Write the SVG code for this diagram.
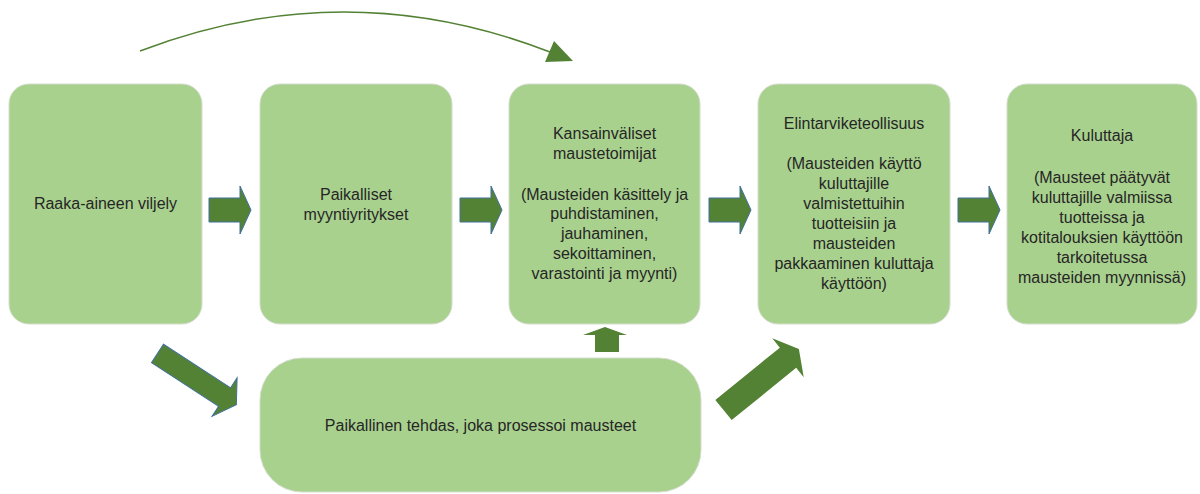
<svg xmlns="http://www.w3.org/2000/svg" width="1200" height="494" viewBox="0 0 1200 494">
<style>
.box{fill:#A9D18E;stroke:#d3dccd;stroke-width:1}
.t{font-family:"Liberation Sans",Arial,sans-serif;font-size:16px;fill:#262626;text-anchor:middle}
.arr{fill:#548235;stroke:#41719C;stroke-width:1}
.arr2{fill:#548235}
</style>
<defs>
<path id="harrow" d="M0,-12 H31 V-24 L42,0 L31,24 V12 H0 Z"/>
</defs>
<rect width="1200" height="494" fill="#ffffff"/>
<g id="connectors">
<path d="M140,51 Q345,-27.5 550,52" fill="none" stroke="#548235" stroke-width="1.5"/>
<polygon points="554,41 573,61 545,62" fill="#548235"/>
<use href="#harrow" class="arr" transform="translate(209,210)"/>
<use href="#harrow" class="arr" transform="translate(460,210)"/>
<use href="#harrow" class="arr" transform="translate(709,210)"/>
<use href="#harrow" class="arr" transform="translate(958,210)"/>
<path class="arr" d="M0,-11 H80 V-23 L94,0 L80,23 V11 H0 Z" transform="translate(157.5,353.5) rotate(33)"/>
<path class="arr2" d="M0,-13 H83 V-25 L97,0 L83,25 V13 H0 Z" transform="translate(723.5,410) rotate(-39)"/>
<path class="arr2" d="M595,352 V335 H583 L605,327 L627,335 H619 V352 Z"/>
</g>
<g id="n1">
<rect class="box" x="9" y="84" width="193" height="240" rx="20"/>
<text class="t" x="105.5" y="209">Raaka-aineen viljely</text>
</g>
<g id="n2">
<rect class="box" x="260" y="84" width="192" height="240" rx="20"/>
<text class="t" x="356" y="200">Paikalliset</text>
<text class="t" x="356" y="220">myyntiyritykset</text>
</g>
<g id="n3">
<rect class="box" x="509" y="84" width="191" height="240" rx="20"/>
<text class="t" x="604.5" y="139">Kansainväliset</text>
<text class="t" x="604.5" y="159">maustetoimijat</text>
<text class="t" x="604.5" y="200">(Mausteiden käsittely ja</text>
<text class="t" x="604.5" y="219">puhdistaminen,</text>
<text class="t" x="604.5" y="239">jauhaminen,</text>
<text class="t" x="604.5" y="259">sekoittaminen,</text>
<text class="t" x="604.5" y="279">varastointi ja myynti)</text>
</g>
<g id="n4">
<rect class="box" x="758" y="84" width="192" height="240" rx="20"/>
<text class="t" x="854" y="129">Elintarviketeollisuus</text>
<text class="t" x="854" y="169">(Mausteiden käyttö</text>
<text class="t" x="854" y="189">kuluttajille</text>
<text class="t" x="854" y="209">valmistettuihin</text>
<text class="t" x="854" y="229">tuotteisiin ja</text>
<text class="t" x="854" y="249">mausteiden</text>
<text class="t" x="854" y="269">pakkaaminen kuluttaja</text>
<text class="t" x="854" y="289">käyttöön)</text>
</g>
<g id="n5">
<rect class="box" x="1007" y="84" width="190" height="240" rx="20"/>
<text class="t" x="1102" y="141">Kuluttaja</text>
<text class="t" x="1102" y="183">(Mausteet päätyvät</text>
<text class="t" x="1102" y="203">kuluttajille valmiissa</text>
<text class="t" x="1102" y="223">tuotteissa ja</text>
<text class="t" x="1102" y="243">kotitalouksien käyttöön</text>
<text class="t" x="1102" y="263">tarkoitetussa</text>
<text class="t" x="1102" y="283">mausteiden myynnissä)</text>
</g>
<g id="n6">
<rect class="box" x="260" y="358" width="441" height="134" rx="42"/>
<text class="t" x="480.5" y="431">Paikallinen tehdas, joka prosessoi mausteet</text>
</g>
</svg>
